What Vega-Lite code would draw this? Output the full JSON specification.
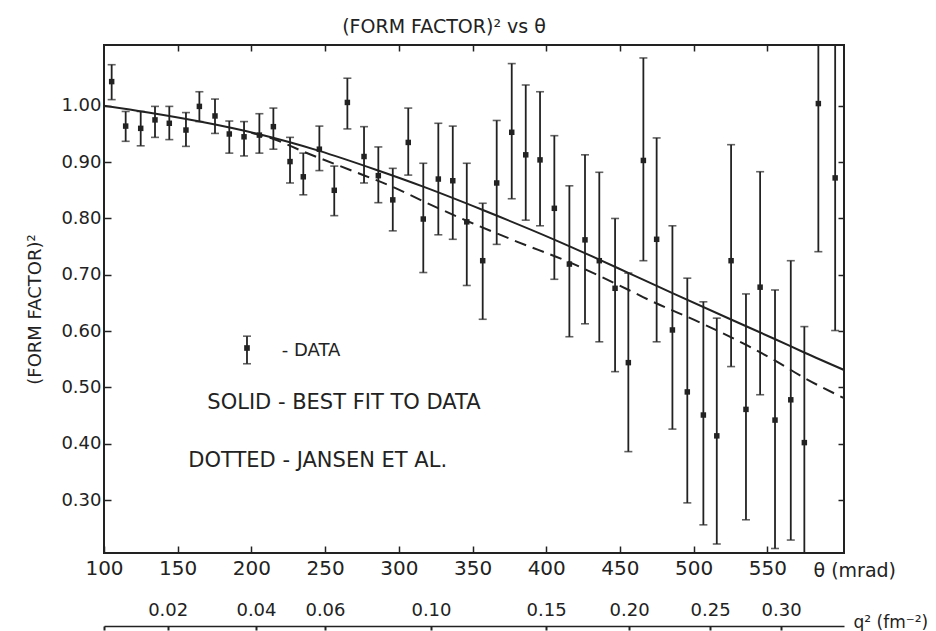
{
  "$schema": "https://vega.github.io/schema/vega-lite/v6.json",
  "width": 740,
  "height": 508,
  "autosize": {"type": "none"},
  "padding": {"left": 104, "top": 45, "right": 92, "bottom": 78},
  "background": "white",
  "title": {"text": "(FORM FACTOR)² vs θ", "anchor": "middle", "dx": -30, "offset": -8, "fontSize": 19, "font": "DejaVu Sans", "fontWeight": "normal", "color": "#222", "baseline": "alphabetic"},
  "config": {"view": {"stroke": "#222", "strokeWidth": 2}, "font": "DejaVu Sans"},
  "datasets": {
    "points": [
      {"theta": 105.2, "v": 1.043, "lo": 1.011, "hi": 1.073},
      {"theta": 114.7, "v": 0.964, "lo": 0.937, "hi": 0.990},
      {"theta": 124.9, "v": 0.960, "lo": 0.929, "hi": 0.990},
      {"theta": 134.6, "v": 0.975, "lo": 0.944, "hi": 0.999},
      {"theta": 144.3, "v": 0.969, "lo": 0.940, "hi": 0.999},
      {"theta": 155.6, "v": 0.957, "lo": 0.928, "hi": 0.988},
      {"theta": 164.7, "v": 0.999, "lo": 0.972, "hi": 1.025},
      {"theta": 175.3, "v": 0.982, "lo": 0.951, "hi": 1.012},
      {"theta": 185.0, "v": 0.950, "lo": 0.916, "hi": 0.973},
      {"theta": 195.0, "v": 0.945, "lo": 0.911, "hi": 0.972},
      {"theta": 205.4, "v": 0.948, "lo": 0.916, "hi": 0.986},
      {"theta": 214.9, "v": 0.963, "lo": 0.923, "hi": 0.996},
      {"theta": 226.2, "v": 0.901, "lo": 0.863, "hi": 0.944},
      {"theta": 235.2, "v": 0.874, "lo": 0.842, "hi": 0.916},
      {"theta": 246.1, "v": 0.923, "lo": 0.885, "hi": 0.964},
      {"theta": 256.2, "v": 0.850, "lo": 0.805, "hi": 0.893},
      {"theta": 265.1, "v": 1.006, "lo": 0.959, "hi": 1.049},
      {"theta": 276.4, "v": 0.910, "lo": 0.863, "hi": 0.963},
      {"theta": 286.1, "v": 0.876, "lo": 0.828, "hi": 0.927},
      {"theta": 295.9, "v": 0.833, "lo": 0.778, "hi": 0.889},
      {"theta": 306.4, "v": 0.935, "lo": 0.877, "hi": 0.996},
      {"theta": 316.6, "v": 0.799, "lo": 0.704, "hi": 0.898},
      {"theta": 326.8, "v": 0.870, "lo": 0.771, "hi": 0.969},
      {"theta": 336.6, "v": 0.867, "lo": 0.763, "hi": 0.964},
      {"theta": 346.1, "v": 0.794, "lo": 0.681, "hi": 0.898},
      {"theta": 356.9, "v": 0.725, "lo": 0.621, "hi": 0.827},
      {"theta": 366.4, "v": 0.863, "lo": 0.754, "hi": 0.974},
      {"theta": 376.6, "v": 0.953, "lo": 0.835, "hi": 1.075},
      {"theta": 386.1, "v": 0.913, "lo": 0.797, "hi": 1.037},
      {"theta": 395.8, "v": 0.904, "lo": 0.787, "hi": 1.025},
      {"theta": 405.5, "v": 0.818, "lo": 0.692, "hi": 0.947},
      {"theta": 415.7, "v": 0.719, "lo": 0.590, "hi": 0.858},
      {"theta": 426.3, "v": 0.762, "lo": 0.613, "hi": 0.913},
      {"theta": 436.0, "v": 0.725, "lo": 0.581, "hi": 0.882},
      {"theta": 446.7, "v": 0.676, "lo": 0.528, "hi": 0.800},
      {"theta": 455.7, "v": 0.544, "lo": 0.386, "hi": 0.703},
      {"theta": 465.9, "v": 0.903, "lo": 0.725, "hi": 1.085},
      {"theta": 474.9, "v": 0.763, "lo": 0.581, "hi": 0.943},
      {"theta": 485.6, "v": 0.602, "lo": 0.426, "hi": 0.787},
      {"theta": 495.7, "v": 0.492, "lo": 0.295, "hi": 0.694},
      {"theta": 506.6, "v": 0.451, "lo": 0.256, "hi": 0.652},
      {"theta": 515.7, "v": 0.414, "lo": 0.222, "hi": 0.623},
      {"theta": 525.4, "v": 0.725, "lo": 0.537, "hi": 0.931},
      {"theta": 535.5, "v": 0.461, "lo": 0.265, "hi": 0.666},
      {"theta": 545.1, "v": 0.678, "lo": 0.487, "hi": 0.883},
      {"theta": 555.2, "v": 0.442, "lo": 0.214, "hi": 0.673},
      {"theta": 565.9, "v": 0.478, "lo": 0.229, "hi": 0.725},
      {"theta": 575.1, "v": 0.402, "lo": 0.196, "hi": 0.608},
      {"theta": 584.6, "v": 1.004, "lo": 0.741, "hi": 1.267},
      {"theta": 596.0, "v": 0.872, "lo": 0.601, "hi": 1.144}
    ],
    "fit": [
      {"theta": 100, "v": 1.000}, {"theta": 130, "v": 0.988}, {"theta": 165, "v": 0.972},
      {"theta": 206, "v": 0.949}, {"theta": 246, "v": 0.920}, {"theta": 285, "v": 0.886},
      {"theta": 317, "v": 0.856}, {"theta": 357, "v": 0.815}, {"theta": 405, "v": 0.763},
      {"theta": 436, "v": 0.727}, {"theta": 456, "v": 0.703}, {"theta": 486, "v": 0.667},
      {"theta": 525, "v": 0.621}, {"theta": 555, "v": 0.586}, {"theta": 575, "v": 0.562},
      {"theta": 602, "v": 0.531}
    ],
    "jansen": [
      {"theta": 200, "v": 0.952}, {"theta": 215, "v": 0.941}, {"theta": 235, "v": 0.919},
      {"theta": 267, "v": 0.886}, {"theta": 296, "v": 0.856}, {"theta": 317, "v": 0.830},
      {"theta": 346, "v": 0.796}, {"theta": 380, "v": 0.759}, {"theta": 416, "v": 0.722},
      {"theta": 436, "v": 0.698}, {"theta": 456, "v": 0.673}, {"theta": 466, "v": 0.660},
      {"theta": 507, "v": 0.612}, {"theta": 536, "v": 0.575}, {"theta": 555, "v": 0.548},
      {"theta": 575, "v": 0.517}, {"theta": 602, "v": 0.481}
    ],
    "key": [
      {"theta": 197, "v": 0.570, "lo": 0.542, "hi": 0.591}
    ],
    "notes": [
      {"theta": 220.6, "v": 0.565, "label": "- DATA"},
      {"theta": 170.1, "v": 0.473, "label": "SOLID - BEST FIT TO DATA"},
      {"theta": 157.2, "v": 0.370, "label": "DOTTED - JANSEN ET AL."}
    ]
  },
  "resolve": {"axis": {"x": "independent", "y": "independent"}},
  "layer": [
    {
      "data": {"name": "points"},
      "mark": {"type": "rule", "strokeWidth": 1.8, "color": "#222", "clip": true},
      "encoding": {
        "x": {"field": "theta", "type": "quantitative",
          "scale": {"domain": [100, 602], "nice": false, "zero": false},
          "axis": {"orient": "bottom", "values": [100, 150, 200, 250, 300, 350, 400, 450, 500, 550],
            "tickSize": -7, "tickWidth": 1.5, "tickColor": "#222", "domain": false, "grid": false,
            "labelFontSize": 20, "labelColor": "#222", "labelPadding": 12, "labelBaseline": "top",
            "labelFlush": false, "labelOverlap": false,
            "title": "θ (mrad)", "titleX": 709, "titleY": 23, "titleAlign": "left", "titleBaseline": "alphabetic",
            "titleFontSize": 19, "titleFontWeight": "normal", "titleColor": "#222"}},
        "y": {"field": "lo", "type": "quantitative",
          "scale": {"domain": [0.206, 1.108], "nice": false, "zero": false},
          "axis": {"orient": "left", "values": [0.3, 0.4, 0.5, 0.6, 0.7, 0.8, 0.9, 1.0], "format": ".2f",
            "tickSize": -7, "tickWidth": 1.5, "tickColor": "#222", "domain": false, "grid": false,
            "labelFontSize": 18, "labelColor": "#222", "labelPadding": 10,
            "title": "(FORM FACTOR)²", "titleAngle": 270, "titleX": -69, "titleY": 264,
            "titleAlign": "center", "titleBaseline": "middle", "titleFontSize": 18,
            "titleFontWeight": "normal", "titleColor": "#222"}},
        "y2": {"field": "hi"}
      }
    },
    {
      "data": {"name": "points"},
      "mark": {"type": "tick", "orient": "horizontal", "size": 8, "thickness": 1.6, "color": "#222", "clip": true},
      "encoding": {
        "x": {"field": "theta", "type": "quantitative",
          "scale": {"domain": [100, 602], "nice": false, "zero": false},
          "axis": {"orient": "top", "values": [150, 200, 250, 300, 350, 400, 450, 500, 550],
            "tickSize": -6, "tickWidth": 1.5, "tickColor": "#222", "domain": false, "grid": false,
            "labels": false, "title": null}},
        "y": {"field": "lo", "type": "quantitative",
          "scale": {"domain": [0.206, 1.108], "nice": false, "zero": false},
          "axis": {"orient": "right", "values": [0.3, 0.4, 0.5, 0.6, 0.7, 0.8, 0.9, 1.0],
            "tickSize": -6, "tickWidth": 1.5, "tickColor": "#222", "domain": false, "grid": false,
            "labels": false, "title": null}}
      }
    },
    {
      "data": {"name": "points"},
      "mark": {"type": "tick", "orient": "horizontal", "size": 8, "thickness": 1.6, "color": "#222", "clip": true},
      "encoding": {
        "x": {"field": "theta", "type": "quantitative",
          "scale": {"domain": [100, 602], "nice": false, "zero": false},
          "axis": {"orient": "bottom", "offset": 73,
            "values": [100, 143.2, 203.1, 249.9, 321.8, 399.9, 456.2, 511.2, 559.3],
            "labelExpr": "datum.value < 120 ? '' : datum.value < 170 ? '0.02' : datum.value < 230 ? '0.04' : datum.value < 290 ? '0.06' : datum.value < 360 ? '0.10' : datum.value < 430 ? '0.15' : datum.value < 480 ? '0.20' : datum.value < 530 ? '0.25' : '0.30'",
            "tickSize": 4, "tickWidth": 2, "tickColor": "#222", "domain": true, "domainColor": "#222", "domainWidth": 1.6,
            "grid": false, "labelFontSize": 18, "labelColor": "#222", "labelPadding": -15, "labelBaseline": "alphabetic",
            "labelFlush": false, "labelOverlap": false,
            "title": "q² (fm⁻²)", "titleX": 749, "titleY": 1, "titleAlign": "left", "titleBaseline": "alphabetic",
            "titleFontSize": 17, "titleFontWeight": "normal", "titleColor": "#222"}},
        "y": {"field": "hi", "type": "quantitative",
          "scale": {"domain": [0.206, 1.108], "nice": false, "zero": false}, "axis": null}
      }
    },
    {
      "data": {"name": "points"},
      "mark": {"type": "point", "shape": "square", "filled": true, "size": 30, "color": "#222", "opacity": 1, "clip": true},
      "encoding": {
        "x": {"field": "theta", "type": "quantitative", "scale": {"domain": [100, 602], "nice": false, "zero": false}, "axis": null},
        "y": {"field": "v", "type": "quantitative", "scale": {"domain": [0.206, 1.108], "nice": false, "zero": false}, "axis": null}
      }
    },
    {
      "data": {"name": "fit"},
      "mark": {"type": "line", "strokeWidth": 2, "color": "#222", "interpolate": "monotone", "clip": true},
      "encoding": {
        "x": {"field": "theta", "type": "quantitative", "scale": {"domain": [100, 602], "nice": false, "zero": false}, "axis": null},
        "y": {"field": "v", "type": "quantitative", "scale": {"domain": [0.206, 1.108], "nice": false, "zero": false}, "axis": null}
      }
    },
    {
      "data": {"name": "jansen"},
      "mark": {"type": "line", "strokeWidth": 2, "color": "#222", "strokeDash": [12, 7], "interpolate": "monotone", "clip": true},
      "encoding": {
        "x": {"field": "theta", "type": "quantitative", "scale": {"domain": [100, 602], "nice": false, "zero": false}, "axis": null},
        "y": {"field": "v", "type": "quantitative", "scale": {"domain": [0.206, 1.108], "nice": false, "zero": false}, "axis": null}
      }
    },
    {
      "data": {"name": "key"},
      "mark": {"type": "rule", "strokeWidth": 1.8, "color": "#222"},
      "encoding": {
        "x": {"field": "theta", "type": "quantitative", "scale": {"domain": [100, 602], "nice": false, "zero": false}, "axis": null},
        "y": {"field": "lo", "type": "quantitative", "scale": {"domain": [0.206, 1.108], "nice": false, "zero": false}, "axis": null},
        "y2": {"field": "hi"}
      }
    },
    {
      "data": {"name": "key"},
      "mark": {"type": "tick", "orient": "horizontal", "size": 8, "thickness": 1.6, "color": "#222"},
      "encoding": {
        "x": {"field": "theta", "type": "quantitative", "scale": {"domain": [100, 602], "nice": false, "zero": false}, "axis": null},
        "y": {"field": "lo", "type": "quantitative", "scale": {"domain": [0.206, 1.108], "nice": false, "zero": false}, "axis": null}
      }
    },
    {
      "data": {"name": "key"},
      "mark": {"type": "tick", "orient": "horizontal", "size": 8, "thickness": 1.6, "color": "#222"},
      "encoding": {
        "x": {"field": "theta", "type": "quantitative", "scale": {"domain": [100, 602], "nice": false, "zero": false}, "axis": null},
        "y": {"field": "hi", "type": "quantitative", "scale": {"domain": [0.206, 1.108], "nice": false, "zero": false}, "axis": null}
      }
    },
    {
      "data": {"name": "key"},
      "mark": {"type": "point", "shape": "square", "filled": true, "size": 32, "color": "#222", "opacity": 1},
      "encoding": {
        "x": {"field": "theta", "type": "quantitative", "scale": {"domain": [100, 602], "nice": false, "zero": false}, "axis": null},
        "y": {"field": "v", "type": "quantitative", "scale": {"domain": [0.206, 1.108], "nice": false, "zero": false}, "axis": null}
      }
    },
    {
      "data": {"name": "notes"},
      "transform": [{"filter": "datum.label == '- DATA'"}],
      "mark": {"type": "text", "align": "left", "baseline": "middle", "fontSize": 18, "color": "#222", "font": "DejaVu Sans"},
      "encoding": {
        "x": {"field": "theta", "type": "quantitative", "scale": {"domain": [100, 602], "nice": false, "zero": false}, "axis": null},
        "y": {"field": "v", "type": "quantitative", "scale": {"domain": [0.206, 1.108], "nice": false, "zero": false}, "axis": null},
        "text": {"field": "label"}
      }
    },
    {
      "data": {"name": "notes"},
      "transform": [{"filter": "datum.label != '- DATA'"}],
      "mark": {"type": "text", "align": "left", "baseline": "middle", "fontSize": 21, "color": "#222", "font": "DejaVu Sans"},
      "encoding": {
        "x": {"field": "theta", "type": "quantitative", "scale": {"domain": [100, 602], "nice": false, "zero": false}, "axis": null},
        "y": {"field": "v", "type": "quantitative", "scale": {"domain": [0.206, 1.108], "nice": false, "zero": false}, "axis": null},
        "text": {"field": "label"}
      }
    }
  ]
}
